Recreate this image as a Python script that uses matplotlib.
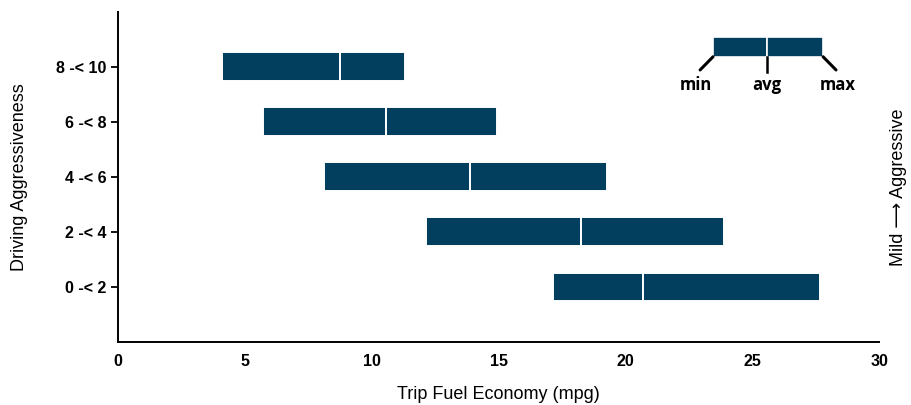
import matplotlib.pyplot as plt
from matplotlib.patches import Rectangle

# aggressiveness bins, bottom to top
kategorie = ["0 -< 2", "2 -< 4", "4 -< 6", "6 -< 8", "8 -< 10"]
minimum = [17.15, 12.14, 8.12, 5.72, 4.10]
prumer = [20.71, 18.25, 13.86, 10.56, 8.77]
maximum = [27.67, 23.89, 19.27, 14.94, 11.31]

barva = "#023f5f"

plt.rcParams["font.family"] = ["Liberation Sans", "DejaVu Sans"]

fig = plt.figure(figsize=(9.11, 4.05), dpi=100)
ax = fig.add_axes([0.1295, 0.156, 0.8355, 0.815])

pozice = list(range(len(kategorie)))
leva = [p - m for p, m in zip(prumer, minimum)]
prava = [x - p for x, p in zip(maximum, prumer)]

ax.barh(pozice, leva, left=minimum, height=0.52, color=barva,
        edgecolor="white", linewidth=1.4)
ax.barh(pozice, prava, left=prumer, height=0.52, color=barva,
        edgecolor="white", linewidth=1.4)

ax.set_xlim(0, 30)
ax.set_ylim(-1, 5)
ax.set_xticks([0, 5, 10, 15, 20, 25, 30])
ax.set_yticks(pozice)
ax.set_yticklabels(kategorie)
ax.tick_params(axis="x", length=0, pad=9, labelsize=11.5)
ax.tick_params(axis="y", length=5, width=1.3, pad=3, labelsize=11.5)
for t in ax.get_xticklabels() + ax.get_yticklabels():
    t.set_fontweight("bold")

for s in ["top", "right"]:
    ax.spines[s].set_visible(False)
for s in ["left", "bottom"]:
    ax.spines[s].set_linewidth(1.4)

ax.set_xlabel("Trip Fuel Economy (mpg)", fontsize=13, labelpad=12)
ax.set_ylabel("Driving Aggressiveness", fontsize=13)
ax.yaxis.set_label_coords(-0.118, 0.5)
fig.text(0.986, 0.538, "Mild \u27f6 Aggressive", rotation=90, fontsize=13,
         ha="center", va="center")

# legenda vpravo nahoře (v souřadnicích os)
tr = ax.transAxes
x0, xs, x1 = 0.7818, 0.8528, 0.9264
y0, y1 = 0.9242, 0.8636
ax.add_patch(Rectangle((x0, y1), xs - x0, y0 - y1, transform=tr,
                       facecolor=barva, edgecolor="white", lw=1.2))
ax.add_patch(Rectangle((xs, y1), x1 - xs, y0 - y1, transform=tr,
                       facecolor=barva, edgecolor="white", lw=1.2))
ax.plot([x0, x0 - 0.017], [y1, y1 - 0.04], color="black", lw=2.2,
        transform=tr, solid_capstyle="round")
ax.plot([xs, xs], [y1, y1 - 0.045], color="black", lw=1.8, transform=tr)
ax.plot([x1, x1 + 0.017], [y1, y1 - 0.04], color="black", lw=2.2,
        transform=tr, solid_capstyle="round")
for xx, txt in [(x0 - 0.023, "min"), (xs, "avg"), (x1 + 0.019, "max")]:
    ax.text(xx, y1 - 0.085, txt, transform=tr, ha="center", va="center",
            fontsize=12, fontweight="bold", family=["Open Sans", "DejaVu Sans"])

plt.savefig("out.png", dpi=100)
plt.close()
